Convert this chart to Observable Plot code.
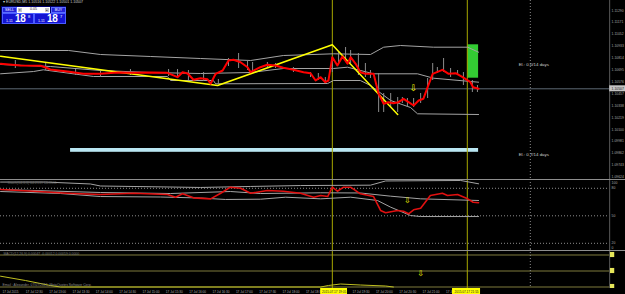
<!DOCTYPE html>
<html><head><meta charset="utf-8">
<script src="https://cdn.jsdelivr.net/npm/d3@7"></script>
<script src="https://cdn.jsdelivr.net/npm/@observablehq/plot@0.6"></script>
<style>
html,body{margin:0;padding:0;background:#000;}
#chart{position:relative;width:625px;height:294px;background:#000;overflow:hidden;font-family:"Liberation Sans",sans-serif;}
.sep{position:absolute;left:0;width:625px;height:1px;background:#8e8e8e;z-index:5;}
.hdr{position:absolute;left:3px;top:0px;font-size:3.6px;color:#d0d0d0;white-space:nowrap;z-index:6;}
#otp{position:absolute;left:1px;top:6px;width:65px;height:18px;background:#00006e;z-index:6;}
#otp div{position:absolute;box-sizing:border-box;}
.btn{background:#2323d8;border:1px solid #5a6cff;color:#fff;font-size:3.6px;text-align:center;line-height:4px;}
.lot{background:#fff;color:#222;font-size:3.6px;text-align:center;line-height:5px;}
.arr{background:#c8c8c8;color:#333;font-size:3px;text-align:center;line-height:4px;}
.px{background:#1414d2;border:1px solid #4b5cff;color:#fff;white-space:nowrap;}
.px .s{position:absolute;left:3px;top:5px;font-size:3.6px;}
.px .b{position:absolute;left:12px;top:-1px;font-size:10px;font-weight:bold;letter-spacing:-0.3px;}
.px .u{position:absolute;left:25px;top:0px;font-size:4px;}
</style></head>
<body><div id="chart"></div>
<script>
// ---------- shared x (bar index) ----------
const xDomain = [-0.514, 160.17];
const vlines = [84.8, 119.5];          // vertical yellow lines (bar index)
const futureLine = 135.7;              // dotted vertical line
const axisAt = 156.1;                  // price-scale border
const axisLabelAt = 156.6;

// ---------- main panel (price) ----------
const priceDomain = [1.0960, 1.1139];
const priceTicks = [1.11290,1.11171,1.11052,1.10933,1.10814,1.10695,1.10576,1.10457,1.10338,1.10219,1.10100,1.09981,1.09862,1.09743,1.09624];
const priceNow = 1.10507;
const maLine = [[-0.5,1.10757],[4.6,1.10740],[9.8,1.10737],[11.1,1.10720],[12.3,1.10700],[16.7,1.10680],[20.8,1.10657],[25.2,1.10657],[29.6,1.10670],[33.7,1.10667],[38.1,1.10670],[42.4,1.10667],[45.0,1.10623],[46.3,1.10673],[47.6,1.10660],[49.1,1.10597],[50.9,1.10613],[52.7,1.10603],[53.5,1.10557],[54.8,1.10657],[56.6,1.10690],[58.1,1.10790],[59.4,1.10797],[61.2,1.10773],[63.0,1.10723],[63.8,1.10673],[66.3,1.10723],[68.1,1.10747],[70.2,1.10740],[72.2,1.10717],[74.8,1.10697],[77.4,1.10673],[79.2,1.10663],[80.5,1.10590],[81.8,1.10623],[83.0,1.10573],[83.8,1.10590],[84.8,1.10823],[86.1,1.10740],[87.4,1.10830],[88.7,1.10757],[89.5,1.10823],[90.8,1.10757],[92.0,1.10673],[93.3,1.10657],[95.4,1.10657],[96.7,1.10457],[98.0,1.10357],[99.2,1.10373],[100.5,1.10363],[101.8,1.10373],[103.1,1.10407],[104.4,1.10373],[105.7,1.10340],[107.0,1.10390],[108.2,1.10407],[109.3,1.10523],[110.6,1.10657],[113.1,1.10697],[114.7,1.10657],[116.5,1.10663],[118.3,1.10623],[120.3,1.10573],[121.0,1.10523],[122.4,1.10507]];
const bbUpper = [[-0.5,1.10890],[17.0,1.10890],[25.2,1.10850],[38.1,1.10830],[50.9,1.10810],[63.8,1.10790],[72.2,1.10840],[85.1,1.10857],[94.6,1.10850],[98.0,1.10923],[102.3,1.10940],[110.8,1.10923],[119.6,1.10923],[122.4,1.10873]];
const bbMiddle = [[-0.5,1.10750],[12.3,1.10730],[25.2,1.10690],[38.1,1.10670],[50.9,1.10660],[63.8,1.10670],[72.2,1.10710],[85.1,1.10710],[88.7,1.10723],[95.4,1.10657],[106.7,1.10657],[110.8,1.10613],[122.4,1.10573]];
const bbLower = [[-0.5,1.10657],[8.0,1.10680],[10.5,1.10697],[23.4,1.10630],[42.4,1.10630],[43.2,1.10590],[54.2,1.10590],[54.8,1.10557],[83.6,1.10560],[85.1,1.10590],[92.0,1.10590],[94.6,1.10540],[99.8,1.10390],[104.9,1.10320],[106.7,1.10257],[122.4,1.10250]];
const zigzag = [[-0.5,1.10833],[55.3,1.10540],[84.8,1.10947],[101.6,1.10250]];
const wicks = [[3.3,1.10790,1.10710],[11.1,1.10770,1.10690],[18.8,1.10700,1.10640],[25.2,1.10690,1.10620],[32.9,1.10700,1.10640],[42.7,1.10700,1.10630],[45.0,1.10700,1.10620],[47.8,1.10690,1.10590],[51.7,1.10670,1.10580],[55.5,1.10600,1.10550],[58.1,1.10810,1.10730],[60.7,1.10860,1.10710],[63.0,1.10790,1.10690],[64.3,1.10770,1.10660],[68.1,1.10770,1.10720],[70.2,1.10760,1.10710],[74.8,1.10720,1.10670],[79.2,1.10670,1.10620],[81.2,1.10660,1.10590],[83.0,1.10620,1.10560],[84.8,1.10820,1.10670],[86.4,1.10870,1.10760],[88.2,1.10920,1.10790],[89.5,1.10890,1.10760],[91.5,1.10860,1.10640],[93.3,1.10760,1.10620],[94.6,1.10690,1.10610],[96.7,1.10660,1.10270],[98.0,1.10460,1.10270],[99.8,1.10460,1.10320],[101.6,1.10420,1.10270],[102.8,1.10420,1.10360],[104.1,1.10410,1.10320],[105.7,1.10410,1.10320],[107.5,1.10460,1.10360],[109.3,1.10610,1.10410],[110.6,1.10760,1.10590],[111.8,1.10720,1.10660],[113.4,1.10810,1.10670],[115.2,1.10710,1.10620],[117.0,1.10690,1.10640],[118.5,1.10670,1.10540],[120.8,1.10590,1.10470],[122.1,1.10540,1.10470]];
const greenZone = [[119.6,122.4,1.10947,1.10613]];
const blueZone = [[17.5,122.4,1.09910,1.09872]];
const elLabels = [[132.7,1.10750,"El.: 0.0/14 days"],[132.7,1.09850,"El.: 0.7/14 days"]];
const mainArrow = [[105.7,1.10510]];

// ---------- panel 2 (oscillator) ----------
const oscDomain = [13.25, 89.59];
const oscLevels = [80, 50, 20];
const oscTickPos = [86.2, 80, 50, 20, 14.9];
const oscTickText = ["100", "80", "50", "20", "0"];
const oscMain = [[-0.5,78.7],[8.0,76.8],[16.7,74.6],[25.2,73.2],[33.7,74.6],[42.4,73.2],[44.5,70.3],[46.3,74.0],[49.1,69.6],[53.5,68.5],[56.1,74.6],[58.6,81.2],[61.2,80.1],[63.8,74.6],[68.1,77.6],[72.2,76.8],[76.6,74.6],[80.0,70.3],[81.8,72.1],[83.6,71.0],[84.8,81.2],[86.1,76.8],[87.7,81.2],[89.5,81.2],[92.0,74.0],[95.4,71.0],[97.2,55.8],[98.5,53.3],[101.6,55.8],[103.1,55.0],[104.4,52.2],[105.7,56.5],[107.5,58.3],[110.0,72.1],[113.1,74.6],[114.4,72.1],[117.0,73.2],[119.6,68.5],[121.0,64.8],[122.4,64.2]];
const oscUpper = [[-0.5,86.8],[11.1,86.8],[22.6,84.7],[25.2,82.5],[50.9,80.9],[63.8,82.0],[76.6,83.0],[94.6,83.4],[98.5,88.0],[117.8,88.5],[122.4,84.9]];
const oscMiddle = [[-0.5,78.7],[25.2,75.4],[43.2,74.3],[58.6,76.5],[66.3,74.3],[81.8,75.1],[92.0,74.9],[99.8,71.4],[107.5,68.5],[122.4,66.7]];
const oscLower = [[-0.5,76.5],[14.9,74.3],[25.2,71.0],[40.6,70.5],[50.9,69.4],[57.3,67.8],[66.3,68.1],[72.8,70.3],[81.8,68.5],[89.5,70.3],[96.4,66.7],[99.8,59.4],[104.9,50.3],[107.5,49.2],[122.4,49.2]];
const oscArrow = [[104.1,66.7]];

// ---------- panel 3 ----------
const p3Domain = [-0.00109375, 0.00134375];
const p3Levels = [0.001, 0, -0.001];
const p3Line = [[-0.5,-0.000325],[5.9,-0.000594],[12.3,-0.000906],[14.9,-0.001],[81.8,-0.001],[83.8,-0.000906],[86.9,-0.000813],[92.0,-0.000875],[98.5,-0.000938],[100.5,-0.001]];
const p3Arrow = [[107.5,-0.000156]];

// ---------- time axis ----------
const timeTicks = [0,6,12,18,24,30,36,42,48,54,60,66,72,78,90,96,102,108,114];
const timeText = ["17 Jul 2015","17 Jul 12:30","17 Jul 13:00","17 Jul 13:30","17 Jul 14:00","17 Jul 14:30","17 Jul 15:00","17 Jul 15:30","17 Jul 16:00","17 Jul 16:30","17 Jul 17:00","17 Jul 17:30","17 Jul 18:00","17 Jul 18:30","17 Jul 19:30","17 Jul 20:00","17 Jul 20:30","17 Jul 21:00","17 Ju"];
const timeMarks = [[81.8,88.7,"2015.07.17 19:05"],[115.7,122.9,"2015.07.17 21:55"]];

// ---------- drawing ----------
const chart = document.getElementById("chart");
const font = "Liberation Sans, sans-serif";
const base = {width:625, marginTop:0, marginRight:0, marginBottom:0, marginLeft:0,
  style:{background:"#000", fontFamily:font, overflow:"visible"}};
const X = {domain:xDomain, axis:null};
const YEL = "#a8a800";
function place(svg, top){ svg.style.position="absolute"; svg.style.left="0px"; svg.style.top=top+"px"; chart.appendChild(svg); }
const common = () => [
  Plot.ruleX([futureLine], {stroke:"#8a8a8a", strokeDasharray:"1,2"}),
  Plot.ruleX(vlines, {stroke:YEL}),
  Plot.ruleX([axisAt], {stroke:"#5a5a5a"})
];
const L = (data, stroke, w) => Plot.line(data, {x:d=>d[0], y:d=>d[1], stroke, strokeWidth:w});

place(Plot.plot({...base, height:179, x:X, y:{domain:priceDomain, axis:null}, marks:[
  Plot.rect(blueZone, {x1:d=>d[0], x2:d=>d[1], y1:d=>d[2], y2:d=>d[3], fill:"#b9e6f2"}),
  Plot.rect(greenZone, {x1:d=>d[0], x2:d=>d[1], y1:d=>d[2], y2:d=>d[3], fill:"#33cc33"}),
  Plot.ruleY([priceNow], {x1:()=>xDomain[0], x2:()=>axisAt, stroke:"#5d6874"}),
  ...common(),
  L(bbUpper, "#a4a4a4", 1), L(bbMiddle, "#a4a4a4", 1), L(bbLower, "#a4a4a4", 1),
  Plot.ruleX(wicks, {x:d=>d[0], y1:d=>d[2], y2:d=>d[1], stroke:"#8c8c8c"}),
  L(zigzag, "#ffff00", 1.5),
  L(maLine, "#ff0000", 2),
  Plot.text(mainArrow, {x:d=>d[0], y:d=>d[1], text:()=>"⇩", fill:"#ffff00", fontSize:9, fontFamily:"DejaVu Sans"}),
  Plot.text(elLabels, {x:d=>d[0], y:d=>d[1], text:d=>d[2], textAnchor:"start", fill:"#cfcfcf", fontSize:4.4}),
  Plot.text(priceTicks, {x:()=>axisLabelAt, y:d=>d, text:d=>d.toFixed(5), textAnchor:"start", fill:"#a8a8a8", fontSize:3.4}),
  Plot.rect([priceNow], {x1:()=>axisAt, x2:()=>xDomain[1], y1:d=>d+0.0003, y2:d=>d-0.0003, fill:"#c4c4c4"}),
  Plot.text([priceNow], {x:()=>axisLabelAt, y:d=>d, text:d=>d.toFixed(5), textAnchor:"start", fill:"#202020", fontSize:3.4})
]}), 0);

place(Plot.plot({...base, height:70, x:X, y:{domain:oscDomain, axis:null}, marks:[
  Plot.ruleY(oscLevels, {x1:()=>xDomain[0], x2:()=>axisAt, stroke:"#8c8c8c", strokeDasharray:"1,2"}),
  ...common(),
  L(oscUpper, "#a4a4a4", 1), L(oscMiddle, "#a4a4a4", 1), L(oscLower, "#a4a4a4", 1),
  L(oscMain, "#e01010", 1.6),
  Plot.text(oscArrow, {x:d=>d[0], y:d=>d[1], text:()=>"⇩", fill:"#ffff00", fontSize:8, fontFamily:"DejaVu Sans"}),
  Plot.text(["Stoch(14,3,3) 64.2139 66.8511"], {frameAnchor:"top-left", dx:7, dy:2, fill:"#6a6a6a", fontSize:3.6}),
  Plot.text(oscTickPos, {x:()=>axisLabelAt, y:d=>d, text:(d,i)=>oscTickText[i], textAnchor:"start", fill:"#a8a8a8", fontSize:3.4})
]}), 179);

place(Plot.plot({...base, height:39, x:X, y:{domain:p3Domain, axis:null}, marks:[
  Plot.ruleY(p3Levels, {x1:()=>xDomain[0], x2:()=>axisAt, stroke:"#7e7a3c"}),
  ...common(),
  L(p3Line, "#c0c020", 1),
  Plot.text(p3Arrow, {x:d=>d[0], y:d=>d[1], text:()=>"⇩", fill:"#ffff00", fontSize:8, fontFamily:"DejaVu Sans"}),
  Plot.text(["MACD(12,26,9) 0.00047 -0.00012 0.00059 0.0000"], {frameAnchor:"top-left", dx:3, dy:3.5, fill:"#7a7a7a", fontSize:3.4}),
  Plot.text(["Email : Alexander, 07/07/2015, MetaQuotes Software Corp."], {frameAnchor:"bottom-left", dx:2, dy:-2.5, fill:"#8a8a8a", fontSize:3.4}),
  Plot.rect(p3Levels, {x1:()=>axisAt+0.2, x2:()=>axisAt+1.3, y1:d=>d+0.00016, y2:d=>d-0.00016, fill:"#e6e65a"})
]}), 249);

place(Plot.plot({...base, height:6, x:X, marks:[
  Plot.text(timeTicks, {x:d=>d, text:(d,i)=>timeText[i], textAnchor:"start", fill:"#b0b0b0", fontSize:3.1}),
  Plot.rect(timeMarks, {x1:d=>d[0], x2:d=>d[1], fill:"#ffff00"}),
  Plot.text(timeMarks, {x:d=>(d[0]+d[1])/2, text:d=>d[2], fill:"#202020", fontSize:3.1})
]}), 288);

// panel separators & one-click trading chrome
for (const t of [179, 250]) { const s = document.createElement("div"); s.className = "sep"; s.style.top = t + "px"; chart.appendChild(s); }
chart.insertAdjacentHTML("beforeend", `
<div class="hdr">▾ EURUSD,M5 1.10516 1.10522 1.10501 1.10507</div>
<div id="otp">
  <div class="btn" style="left:1px;top:1px;width:15px;height:6px">SELL</div>
  <div class="lot" style="left:16px;top:1px;width:33px;height:6px">0.05</div>
  <div class="arr" style="left:17px;top:2px;width:4px;height:4px">▾</div>
  <div class="arr" style="left:44px;top:2px;width:4px;height:4px">▴</div>
  <div class="btn" style="left:50px;top:1px;width:15px;height:6px">BUY</div>
  <div class="px" style="left:1px;top:7px;width:32px;height:11px"><span class="s">1.11</span><span class="b">18</span><span class="u">8</span></div>
  <div class="px" style="left:33px;top:7px;width:32px;height:11px"><span class="s">1.11</span><span class="b">18</span><span class="u">7</span></div>
</div>`);
</script>
</body></html>
